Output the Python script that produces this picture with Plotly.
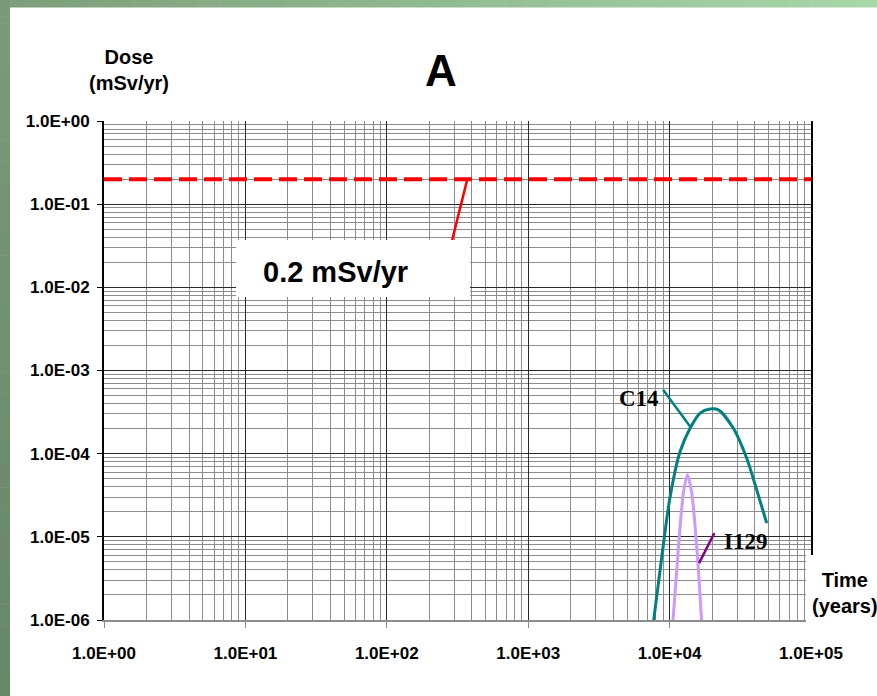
import plotly.graph_objects as go

# ---------------- data ----------------
limit_time = [1, 100000]
limit_dose = [0.2, 0.2]

c14_time = [7690, 8810, 10090, 11860, 13960, 16430, 19320, 22130, 28240, 35100, 41300, 48640]
c14_dose = [9.5e-7, 5.8e-6, 3.05e-5, 1.06e-4, 2.02e-4, 3.07e-4, 3.45e-4, 3.36e-4, 2.02e-4, 8.8e-5, 3.67e-5, 1.46e-5]

i129_time = [10520, 11240, 11860, 12520, 13360, 14350, 15150, 15990, 16890]
i129_dose = [9.0e-7, 4.0e-6, 1.33e-5, 3.35e-5, 5.56e-5, 3.35e-5, 1.33e-5, 4.0e-6, 9.0e-7]

# leader lines for labels (data coordinates)
limit_leader_time = [290, 371]
limit_leader_dose = [0.037, 0.2]
c14_leader_time = [8995, 13960]
c14_leader_dose = [5.85e-4, 2.12e-4]
i129_leader_time = [20730, 16150]
i129_leader_dose = [1.107e-5, 4.83e-6]

x_tickvals = [1, 10, 100, 1000, 10000, 100000]
x_ticktext = ["1.0E+00", "1.0E+01", "1.0E+02", "1.0E+03", "1.0E+04", "1.0E+05"]
y_tickvals = [1, 0.1, 0.01, 0.001, 0.0001, 0.00001, 0.000001]
y_ticktext = ["1.0E+00", "1.0E-01", "1.0E-02", "1.0E-03", "1.0E-04", "1.0E-05", "1.0E-06"]

# ---------------- layout geometry ----------------
W, H = 877, 696
L, R, T, B = 104, 811, 121, 620


def px(x):
    return (x - L) / (R - L)


def py(y):
    return (B - y) / (B - T)


def minor_vals(d0, d1):
    return [k * 10 ** d for d in range(d0, d1) for k in range(2, 10)]


fig = go.Figure()

fig.add_trace(go.Scatter(x=limit_time, y=limit_dose, mode="lines",
                         line=dict(color="#FF0000", width=4, dash="18px,7px"),
                         hoverinfo="skip", showlegend=False))
fig.add_trace(go.Scatter(x=limit_leader_time, y=limit_leader_dose, mode="lines",
                         line=dict(color="#FF0000", width=2.5),
                         hoverinfo="skip", showlegend=False))
fig.add_trace(go.Scatter(x=c14_time, y=c14_dose, mode="lines",
                         line=dict(color="#008080", width=3, shape="spline", smoothing=0.8),
                         hoverinfo="skip", showlegend=False))
fig.add_trace(go.Scatter(x=c14_leader_time, y=c14_leader_dose, mode="lines",
                         line=dict(color="#008080", width=2.5),
                         hoverinfo="skip", showlegend=False))
fig.add_trace(go.Scatter(x=i129_time, y=i129_dose, mode="lines",
                         line=dict(color="#CC99FF", width=3, shape="spline", smoothing=0.8),
                         hoverinfo="skip", showlegend=False))
fig.add_trace(go.Scatter(x=i129_leader_time, y=i129_leader_dose, mode="lines",
                         line=dict(color="#800080", width=2.5),
                         hoverinfo="skip", showlegend=False))

tick_font = dict(family="Liberation Sans Narrow, Arial Narrow, Liberation Sans, Arial", size=17,
                 color="black", weight="bold")

fig.update_xaxes(type="log", range=[0, 5],
                 tickvals=x_tickvals, ticktext=x_ticktext, tickfont=tick_font,
                 showgrid=True, gridcolor="#2a2a2a", gridwidth=1,
                 minor=dict(showgrid=True, gridcolor="#8c8c8c", gridwidth=1,
                            tickvals=minor_vals(0, 5), ticks=""),
                 showline=True, linecolor="#8c8c8c", linewidth=2,
                 ticks="outside", ticklen=6, tickcolor="#8c8c8c",
                 ticklabelstandoff=11, zeroline=False, fixedrange=True)
fig.update_yaxes(type="log", range=[-6, 0],
                 tickvals=y_tickvals, ticktext=y_ticktext, tickfont=tick_font,
                 showgrid=True, gridcolor="#2a2a2a", gridwidth=1,
                 minor=dict(showgrid=True, gridcolor="#8c8c8c", gridwidth=1,
                            tickvals=minor_vals(-6, 0), ticks=""),
                 showline=True, linecolor="black", linewidth=2, mirror=True,
                 ticks="outside", ticklen=5, tickcolor="black",
                 ticklabelstandoff=4, zeroline=False, fixedrange=True)

shapes = []
# green frame: top strip gradient
n = 40
top_c0 = (0x7C, 0x9E, 0x7A)
top_c1 = (0xA8, 0xD6, 0xA8)
for i in range(n):
    t = i / (n - 1)
    c = tuple(round(top_c0[k] + (top_c1[k] - top_c0[k]) * t) for k in range(3))
    x0 = W * i / n
    x1 = W * (i + 1) / n + 0.5
    shapes.append(dict(type="rect", xref="paper", yref="paper", layer="above",
                       x0=px(x0), x1=px(x1), y0=py(0), y1=py(7.5),
                       fillcolor="rgb(%d,%d,%d)" % c, line=dict(width=0)))
# left strip gradient
m = 30
left_c0 = (0x7A, 0x9A, 0x78)
left_c1 = (0x68, 0x86, 0x68)
for i in range(m):
    t = i / (m - 1)
    c = tuple(round(left_c0[k] + (left_c1[k] - left_c0[k]) * t) for k in range(3))
    y0 = H * i / m
    y1 = H * (i + 1) / m + 0.5
    shapes.append(dict(type="rect", xref="paper", yref="paper", layer="above",
                       x0=px(0), x1=px(10), y0=py(y0), y1=py(y1),
                       fillcolor="rgb(%d,%d,%d)" % c, line=dict(width=0)))
# white box behind the 0.2 mSv/yr label
shapes.append(dict(type="rect", xref="paper", yref="paper", layer="above",
                   x0=px(236), x1=px(470), y0=py(240), y1=py(297),
                   fillcolor="white", line=dict(width=0)))
# white box behind the Time label
shapes.append(dict(type="rect", xref="paper", yref="paper", layer="above",
                   x0=px(806), x1=px(878), y0=py(555), y1=py(634),
                   fillcolor="white", line=dict(width=0)))

annotations = [
    dict(text="<b>A</b>", x=px(441), y=py(70), xref="paper", yref="paper",
         showarrow=False, font=dict(family="Liberation Sans, Arial", size=44, color="black"),
         xanchor="center", yanchor="middle"),
    dict(text="<b>Dose<br>(mSv/yr)</b>", x=px(129), y=py(70), xref="paper", yref="paper",
         showarrow=False, font=dict(family="Liberation Sans, Arial", size=20, color="black"),
         xanchor="center", yanchor="middle"),
    dict(text="<b>Time<br>(years)</b>", x=px(845), y=py(593), xref="paper", yref="paper",
         showarrow=False, font=dict(family="Liberation Sans, Arial", size=20, color="black"),
         xanchor="center", yanchor="middle"),
    dict(text="<b>0.2 mSv/yr</b>", x=px(335), y=py(272), xref="paper", yref="paper",
         showarrow=False, font=dict(family="Liberation Sans, Arial", size=29, color="black"),
         xanchor="center", yanchor="middle"),
    dict(text="<b>C14</b>", x=px(639), y=py(398), xref="paper", yref="paper",
         showarrow=False, font=dict(family="Liberation Serif, Times New Roman", size=23, color="black"),
         xanchor="center", yanchor="middle"),
    dict(text="<b>I129</b>", x=px(745), y=py(541), xref="paper", yref="paper",
         showarrow=False, font=dict(family="Liberation Serif, Times New Roman", size=23, color="black"),
         xanchor="center", yanchor="middle"),
]

fig.update_layout(width=W, height=H,
                  margin=dict(l=L, r=W - R, t=T, b=H - B, pad=0),
                  paper_bgcolor="white", plot_bgcolor="white",
                  shapes=shapes, annotations=annotations, showlegend=False)

fig.write_html("out.html", config={"displayModeBar": False},
               post_script="document.body.style.margin='0';document.body.style.overflow='hidden';")
